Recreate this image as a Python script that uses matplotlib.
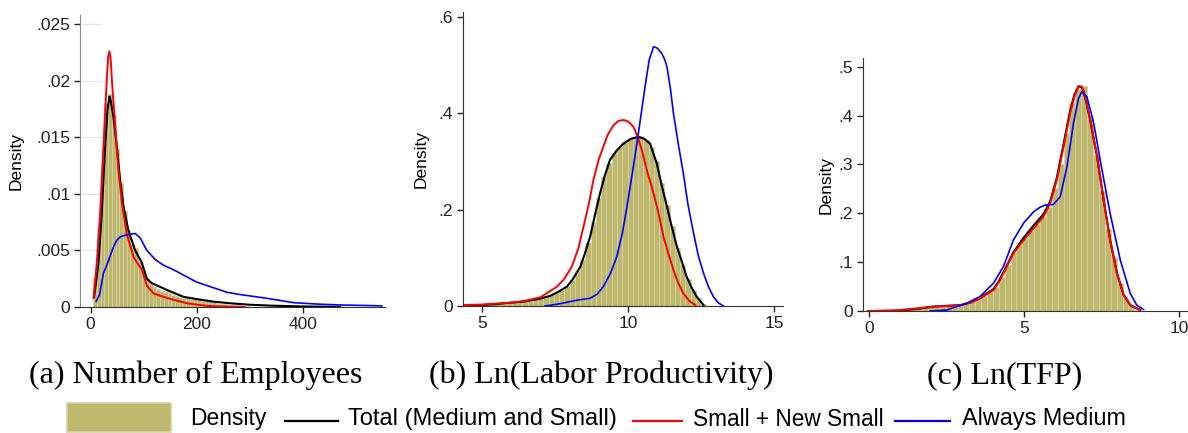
import numpy as np
import matplotlib
matplotlib.use('Agg')
import matplotlib.pyplot as plt
from matplotlib.patches import Rectangle
from matplotlib.lines import Line2D

plt.rcParams['font.family'] = ['Liberation Sans', 'DejaVu Sans']

# ---- (a) Number of employees ----
emp_bin_start = 5
emp_bin_width = 7
emp_hist = [0.0026, 0.0070, 0.0125, 0.0180, 0.0188, 0.0170, 0.0140, 0.0110, 0.0085, 0.0068,
            0.0056, 0.0052, 0.0040, 0.0032, 0.0025, 0.0020, 0.0018, 0.0016, 0.0014, 0.0013,
            0.0012, 0.0011, 0.0010, 0.0009, 0.0008, 0.0008, 0.0007, 0.0007, 0.0006, 0.0005,
            0.0005, 0.0004, 0.0004, 0.0003, 0.0003, 0.0003, 0.0002, 0.0002, 0.0002, 0.0002,
            0.0001, 0.0001]
emp_total_x = [6.6, 14.8, 21, 27.4, 31.8, 35.5, 38, 43, 49.4, 55.7, 62, 71, 84, 96.6, 106, 115.5,
               130, 144, 175, 200, 232, 263, 300, 340, 400, 470]
emp_total_y = [0.0009, 0.0039, 0.0083, 0.0142, 0.0174, 0.0186, 0.0182, 0.0168, 0.0142, 0.0112,
               0.0089, 0.0068, 0.0050, 0.0039, 0.0025, 0.0021, 0.0018, 0.0015, 0.0009, 0.0007,
               0.00047, 0.00033, 0.0002, 0.00012, 0.00005, 0.00001]
emp_small_x = [5.5, 11.7, 18, 24.2, 30.5, 33, 35.5, 38, 40, 46, 52.5, 59, 68, 81, 96.6, 106,
               118.5, 144, 181.5, 219, 260, 290]
emp_small_y = [0.0008, 0.0039, 0.0083, 0.0142, 0.0201, 0.0221, 0.0226, 0.0218, 0.0201, 0.0162,
               0.0121, 0.0092, 0.0065, 0.0044, 0.0033, 0.0019, 0.0012, 0.0008, 0.00033, 0.0001,
               0.00003, 0.0]
emp_med_x = [10.4, 17, 24.2, 30.5, 36.8, 43, 49.4, 56, 62, 72, 84, 93.4, 106, 121.7, 137, 156,
             200, 238, 257, 282, 332, 383, 427, 470, 549]
emp_med_y = [0.0005, 0.0011, 0.0030, 0.0037, 0.0045, 0.0053, 0.0059, 0.0062, 0.0063, 0.0064,
             0.0065, 0.0061, 0.0050, 0.0042, 0.0037, 0.0033, 0.0022, 0.0016, 0.0013, 0.0011,
             0.00077, 0.00038, 0.00026, 0.00018, 0.0001]

# ---- (b) Ln(labor productivity) ----
lp_bin_start = 4.4
lp_bin_width = 0.18
lp_hist = [0.001, 0.0015, 0.002, 0.002, 0.003, 0.0035, 0.004, 0.005, 0.006, 0.0075,
           0.0085, 0.0095, 0.011, 0.013, 0.016, 0.019, 0.023, 0.028, 0.034, 0.042,
           0.054, 0.072, 0.096, 0.13, 0.175, 0.225, 0.268, 0.296, 0.318, 0.330,
           0.340, 0.348, 0.350, 0.352, 0.345, 0.33, 0.30, 0.255, 0.21, 0.165,
           0.12, 0.085, 0.055, 0.033, 0.016, 0.005]
lp_total_x = [4.4, 5.0, 5.5, 6.0, 6.4, 6.9, 7.33, 7.6, 7.9, 8.1, 8.36, 8.5, 8.7, 8.87, 9.04, 9.2,
              9.38, 9.6, 9.84, 10.1, 10.35, 10.55, 10.75, 10.9, 10.98, 11.15, 11.33, 11.5, 11.67,
              11.85, 12.0, 12.2, 12.35, 12.58]
lp_total_y = [0.001, 0.002, 0.004, 0.007, 0.009, 0.014, 0.021, 0.029, 0.040, 0.055, 0.081, 0.105,
              0.144, 0.19, 0.234, 0.27, 0.303, 0.322, 0.337, 0.347, 0.351, 0.347, 0.337, 0.31,
              0.296, 0.25, 0.206, 0.163, 0.123, 0.09, 0.061, 0.035, 0.019, 0.002]
lp_small_x = [4.4, 5.0, 5.5, 6.0, 6.4, 7.0, 7.56, 7.8, 8.07, 8.3, 8.47, 8.65, 8.81, 9.0, 9.15, 9.3,
              9.5, 9.67, 9.84, 10.0, 10.18, 10.3, 10.47, 10.65, 10.87, 11.05, 11.21, 11.38, 11.55,
              11.7, 11.89, 12.1, 12.3]
lp_small_y = [0.002, 0.003, 0.005, 0.007, 0.01, 0.018, 0.04, 0.055, 0.081, 0.12, 0.164, 0.21,
              0.261, 0.305, 0.33, 0.355, 0.375, 0.384, 0.386, 0.383, 0.372, 0.355, 0.323, 0.28,
              0.234, 0.19, 0.144, 0.108, 0.075, 0.05, 0.026, 0.01, 0.002]
lp_med_x = [7.16, 7.7, 8.24, 8.7, 8.95, 9.15, 9.4, 9.61, 9.8, 9.96, 10.13, 10.3, 10.45, 10.58,
            10.72, 10.87, 11.0, 11.15, 11.25, 11.33, 11.45, 11.55, 11.72, 11.89, 12.05, 12.24,
            12.4, 12.58, 12.75, 12.92, 13.1, 13.26]
lp_med_y = [0.0, 0.005, 0.012, 0.016, 0.025, 0.04, 0.068, 0.102, 0.15, 0.206, 0.27, 0.337, 0.4,
            0.455, 0.51, 0.538, 0.535, 0.524, 0.512, 0.496, 0.45, 0.4, 0.335, 0.275, 0.21, 0.151,
            0.105, 0.068, 0.04, 0.019, 0.006, 0.0]

# ---- (c) Ln(TFP) ----
tfp_bin_start = 0.0
tfp_bin_width = 0.19
tfp_hist = [0.001, 0.001, 0.001, 0.002, 0.002, 0.003, 0.004, 0.005, 0.006, 0.007,
            0.008, 0.009, 0.010, 0.010, 0.011, 0.013, 0.016, 0.020, 0.024, 0.030,
            0.038, 0.050, 0.070, 0.094, 0.118, 0.136, 0.150, 0.163, 0.178, 0.192,
            0.212, 0.252, 0.300, 0.365, 0.425, 0.455, 0.46, 0.395, 0.32, 0.245,
            0.168, 0.11, 0.058, 0.026, 0.010, 0.003]
tfp_total_x = [0.8, 1.5, 2.08, 2.94, 3.3, 3.58, 4.01, 4.17, 4.33, 4.65, 4.98, 5.3, 5.62, 5.84,
               6.05, 6.27, 6.48, 6.62, 6.75, 6.85, 6.91, 7.0, 7.13, 7.35, 7.56, 7.77, 7.99, 8.2,
               8.42, 8.74]
tfp_total_y = [0.0, 0.004, 0.009, 0.012, 0.018, 0.027, 0.045, 0.060, 0.079, 0.120, 0.150, 0.175,
               0.198, 0.225, 0.272, 0.342, 0.410, 0.443, 0.46, 0.458, 0.45, 0.428, 0.39, 0.316,
               0.228, 0.146, 0.078, 0.034, 0.012, 0.002]
tfp_small_x = [-0.05, 1.0, 2.08, 2.94, 3.3, 3.58, 4.01, 4.17, 4.33, 4.65, 4.98, 5.3, 5.62, 5.84,
               6.05, 6.27, 6.48, 6.62, 6.75, 6.85, 6.91, 7.0, 7.13, 7.35, 7.56, 7.77, 7.99, 8.2,
               8.42, 8.74]
tfp_small_y = [0.0, 0.002, 0.009, 0.012, 0.018, 0.026, 0.043, 0.058, 0.077, 0.118, 0.145, 0.169,
               0.193, 0.221, 0.268, 0.337, 0.405, 0.44, 0.46, 0.46, 0.453, 0.43, 0.391, 0.316,
               0.227, 0.145, 0.077, 0.033, 0.012, 0.002]
tfp_med_x = [1.97, 2.5, 3.15, 3.58, 4.01, 4.33, 4.65, 4.98, 5.3, 5.5, 5.68, 5.94, 6.16, 6.38,
             6.59, 6.75, 6.86, 7.02, 7.24, 7.45, 7.77, 8.1, 8.42, 8.63, 8.85]
tfp_med_y = [0.0, 0.002, 0.016, 0.03, 0.057, 0.091, 0.145, 0.18, 0.203, 0.212, 0.217, 0.218,
             0.234, 0.296, 0.385, 0.435, 0.449, 0.439, 0.385, 0.309, 0.2, 0.104, 0.036, 0.012,
             0.003]

captions = ['(a) Number of Employees', '(b) Ln(Labor Productivity)', '(c) Ln(TFP)']
legend_labels = ['Density', 'Total (Medium and Small)', 'Small + New Small', 'Always Medium']

bar_face = '#bdb86e'
bar_edge = '#d6d1a2'
W, H = 1188, 433


def px_rect(x0, x1, y_top, y_bot):
    return [x0 / W, 1 - y_bot / H, (x1 - x0) / W, (y_bot - y_top) / H]


fig = plt.figure(figsize=(W / 100, H / 100), dpi=100)

panels = [
    dict(rect=px_rect(80, 385, 15, 307), start=emp_bin_start, width=emp_bin_width, hist=emp_hist,
         total=(emp_total_x, emp_total_y), small=(emp_small_x, emp_small_y), med=(emp_med_x, emp_med_y),
         xlim=(-20, 555), ylim=(0, 0.0258), xticks=[0, 200, 400],
         yticks=[0, 0.005, 0.01, 0.015, 0.02, 0.025], ylab=['0', '.005', '.01', '.015', '.02', '.025'],
         ylabx=-0.184),
    dict(rect=px_rect(463, 783, 12, 306), start=lp_bin_start, width=lp_bin_width, hist=lp_hist,
         total=(lp_total_x, lp_total_y), small=(lp_small_x, lp_small_y), med=(lp_med_x, lp_med_y),
         xlim=(4.35, 15.3), ylim=(0, 0.61), xticks=[5, 10, 15],
         yticks=[0, 0.2, 0.4, 0.6], ylab=['0', '.2', '.4', '.6'], ylabx=-0.106),
    dict(rect=px_rect(863, 1187, 58, 311), start=tfp_bin_start, width=tfp_bin_width, hist=tfp_hist,
         total=(tfp_total_x, tfp_total_y), small=(tfp_small_x, tfp_small_y), med=(tfp_med_x, tfp_med_y),
         xlim=(-0.2, 10.25), ylim=(0, 0.518), xticks=[0, 5, 10],
         yticks=[0, 0.1, 0.2, 0.3, 0.4, 0.5], ylab=['0', '.1', '.2', '.3', '.4', '.5'], ylabx=-0.09),
]

for i, p in enumerate(panels):
    ax = fig.add_axes(p['rect'])
    n = len(p['hist'])
    left = p['start'] + p['width'] * np.arange(n)
    ax.bar(left, p['hist'], width=p['width'], align='edge', color=bar_face,
           edgecolor=bar_edge, linewidth=0.6, zorder=2)
    ax.plot(*p['total'], color='black', lw=1.5, zorder=3)
    ax.plot(*p['small'], color='#ff0000', lw=1.4, zorder=4)
    ax.plot(*p['med'], color='#0000ff', lw=1.2, zorder=5)
    ax.set_xlim(*p['xlim'])
    ax.set_ylim(*p['ylim'])
    ax.set_xticks(p['xticks'])
    ax.set_yticks(p['yticks'])
    ax.set_yticklabels(p['ylab'])
    ax.tick_params(labelsize=12.5, length=4, width=1, colors='#222222', pad=3)
    ax.spines['top'].set_visible(False)
    ax.spines['right'].set_visible(False)
    ax.spines['bottom'].set_color('#333333')
    ax.spines['left'].set_color('#8a8a8a' if i == 0 else '#333333')
    ax.set_ylabel('Density', fontsize=12.5)
    ax.yaxis.set_label_coords(p['ylabx'], 0.5)
    if i == 0:
        for yv in p['yticks'][1:]:
            ax.axhline(yv, xmin=0, xmax=0.07, color='#dde9ee', lw=1, zorder=1)

# captions
cap_x = [196, 601, 1005]
for cx, text in zip(cap_x, captions):
    fig.text(cx / W, 1 - 383 / H, text, ha='center', va='baseline',
             fontsize=23, family=['Liberation Serif', 'DejaVu Serif'])

# legend drawn along the bottom
leg_y = 1 - 419 / H
fig.add_artist(Rectangle((67 / W, 1 - 432 / H), 104 / W, 29 / H, transform=fig.transFigure,
                         facecolor=bar_face, edgecolor=bar_edge, lw=1.2))
fig.text(190 / W, leg_y, legend_labels[0], fontsize=16.5, va='center')
line_specs = [(285, 338, 348, 'black', 1.6, 17), (633, 682, 693, '#ff0000', 1.6, 16.3),
              (895, 950, 962, '#0000ff', 1.6, 16.8)]
for (x0, x1, tx, col, lw, fs), lab in zip(line_specs, legend_labels[1:]):
    fig.add_artist(Line2D([x0 / W, x1 / W], [1 - 421 / H] * 2, transform=fig.transFigure,
                          color=col, lw=lw))
    fig.text(tx / W, leg_y, lab, fontsize=fs, va='center')

fig.savefig('out.png', dpi=100)
